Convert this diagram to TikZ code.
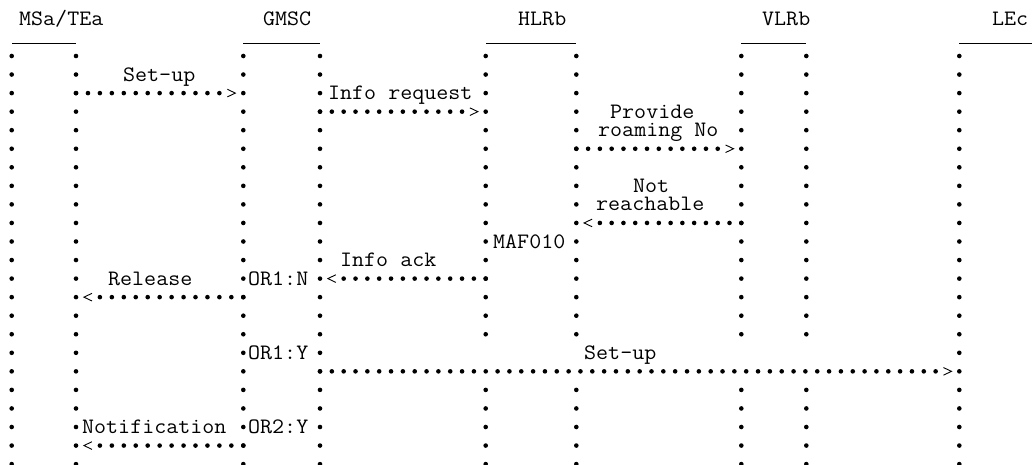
\documentclass[tikz,border=0pt]{standalone}
\usetikzlibrary{calc}
\tikzset{
  lbl/.style={anchor=base west, inner sep=0pt, font=\ttfamily\fontsize{22}{24}\selectfont, xscale=1.06, transform shape},
  chev/.style={draw=black, line width=0.9pt},
  uline/.style={draw=black, line width=0.9pt},
}
\newcommand\arrR[3]{%
  \pgfmathtruncatemacro\lastk{#3-2}%
  \foreach \k in {0,...,\lastk}{\fill ($(#1)!\k/#3!(#2)$) circle[radius=2.3pt];}%
  \draw[chev] ($(#1)!{(#3-1)/#3}!(#2)$) ++(-4,-3.8) -- ++(8,3.8) -- ++(-8,3.8);%
}
\newcommand\arrL[3]{%
  \foreach \k in {2,...,#3}{\fill ($(#1)!\k/#3!(#2)$) circle[radius=2.3pt];}%
  \draw[chev] ($(#1)!{1/#3}!(#2)$) ++(4,-3.8) -- ++(-8,3.8) -- ++(8,3.8);%
}
\begin{document}
\begin{tikzpicture}[x=1pt,y=-1pt]
\useasboundingbox (0,0) rectangle (1032,465);
\fill[white] (0,0) rectangle (1032,465);

% headers
\node[lbl] (hA) at (19,26) {MSa/TEa};
\node[lbl] (hB) at (263,26) {GMSC};
\node[lbl] (hC) at (518,26) {HLRb};
\node[lbl] (hD) at (762,26) {VLRb};
\node[lbl] (hE) at (992,26) {LEc};
\draw[uline] (12,43) -- (76,43);
\draw[uline] (243,43) -- (320,43);
\draw[uline] (486,43) -- (576,43);
\draw[uline] (741,43) -- (806,43);
\draw[uline] (959,43) -- (1032,43);

% lifelines (dotted columns)
\foreach \x in {11.7,76,243.3,320,959.3}
  \foreach \r in {1,...,23}
    \fill (\x,{56+(\r-1)*18.55}) circle[radius=2.3pt];
\foreach \x in {485.7,576.3,741.3,806.3}
  \foreach \r in {1,...,16,19,20,21,22,23}
    \fill (\x,{56+(\r-1)*18.55}) circle[radius=2.3pt];

% arrow end points
\coordinate (s1a) at (76,93.1);     \coordinate (s1b) at (243.3,93.1);
\coordinate (irA) at (320,111.65);  \coordinate (irB) at (485.7,111.65);
\coordinate (prA) at (576.3,148.75);\coordinate (prB) at (741.3,148.75);
\coordinate (nrA) at (576.3,222.95);\coordinate (nrB) at (741.3,222.95);
\coordinate (iaA) at (320,278.6);   \coordinate (iaB) at (485.7,278.6);
\coordinate (rlA) at (76,297.15);   \coordinate (rlB) at (243.3,297.15);
\coordinate (s2a) at (320,371.35);  \coordinate (s2b) at (959.3,371.35);
\coordinate (ntA) at (76,445.55);   \coordinate (ntB) at (243.3,445.55);

\arrR{s1a}{s1b}{14}
\arrR{irA}{irB}{14}
\arrR{prA}{prB}{14}
\arrL{nrA}{nrB}{14}
\arrL{iaA}{iaB}{14}
\arrL{rlA}{rlB}{14}
\arrR{s2a}{s2b}{54}
\arrL{ntA}{ntB}{14}

% labels
\node[lbl] (tSetup1) at (123,81.05) {Set-up};
\node[lbl] (tInfoReq) at (328,99.6) {Info request};
\node[lbl] (tProvide) at (610,118.15) {Provide};
\node[lbl] (tRoaming) at (598,136.7) {roaming No};
\node[lbl] (tNot) at (633,192.35) {Not};
\node[lbl] (tReach) at (596,210.9) {reachable};
\node[lbl] (tMAF) at (493,248) {MAF010};
\node[lbl] (tInfoAck) at (340,266.55) {Info ack};
\node[lbl] (tRelease) at (108,285.1) {Release};
\node[lbl] (tOR1N) at (248,285.1) {OR1:N};
\node[lbl] (tOR1Y) at (248,359.3) {OR1:Y};
\node[lbl] (tSetup2) at (584,359.3) {Set-up};
\node[lbl] (tNotif) at (82,433.5) {Notification};
\node[lbl] (tOR2Y) at (248,433.5) {OR2:Y};
\end{tikzpicture}
\end{document}
